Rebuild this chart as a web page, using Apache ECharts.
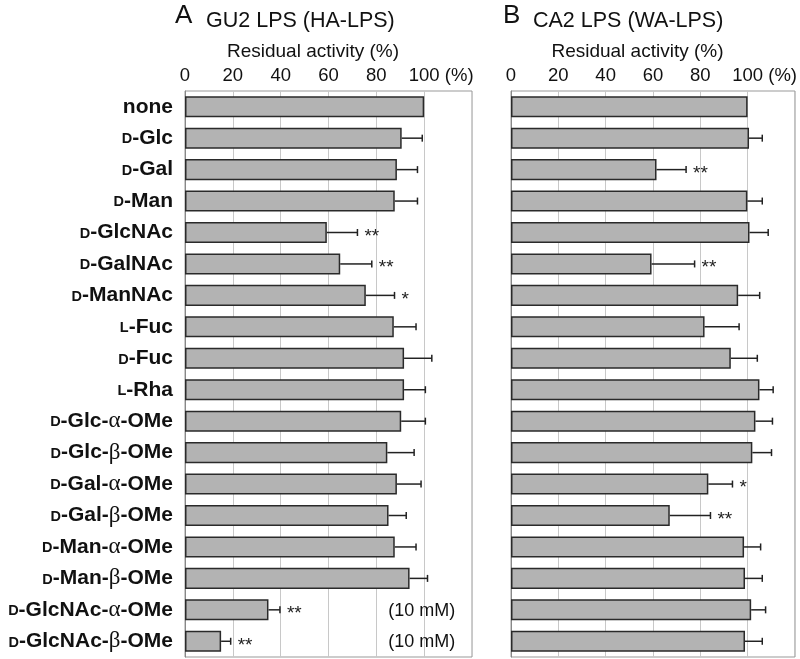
<!DOCTYPE html>
<html>
<head>
<meta charset="utf-8">
<script src="https://cdn.jsdelivr.net/npm/echarts@6/dist/echarts.min.js"></script>
<style>
html,body{margin:0;padding:0;background:#fff;}
#c{width:800px;height:659px;}
</style>
</head>
<body>
<div id="c"></div>
<script>
// ---- data ----
var categories = ['none','D-Glc','D-Gal','D-Man','D-GlcNAc','D-GalNAc','D-ManNAc','L-Fuc','D-Fuc','L-Rha',
  'D-Glc-α-OMe','D-Glc-β-OMe','D-Gal-α-OMe','D-Gal-β-OMe','D-Man-α-OMe','D-Man-β-OMe','D-GlcNAc-α-OMe','D-GlcNAc-β-OMe'];
var gu2Mean = [100, 90.6, 88.6, 87.7, 59.3, 64.9, 75.6, 87.3, 91.6, 91.6, 90.4, 84.6, 88.6, 85.1, 87.7, 93.9, 34.9, 15.1];
var gu2Err  = [0, 8.6, 8.6, 9.5, 12.8, 13.2, 12.0, 9.3, 11.6, 8.9, 10.1, 11.2, 10.1, 7.4, 8.9, 7.5, 4.8, 4.0];
var gu2Sig  = ['','','','','**','**','*','','','','','','','','','','**','**'];
var gu2Note = ['','','','','','','','','','','','','','','','','(10 mM)','(10 mM)'];
var ca2Mean = [100, 100.6, 61.5, 99.9, 100.8, 59.4, 96.0, 81.8, 92.9, 105.0, 103.3, 102.0, 83.4, 67.1, 98.5, 98.9, 101.5, 98.9];
var ca2Err  = [0, 5.6, 12.5, 6.3, 7.9, 18.2, 9.1, 14.6, 11.2, 5.8, 7.2, 8.1, 10.2, 17.2, 7.0, 7.3, 6.1, 7.3];
var ca2Sig  = ['','','**','','','**','','','','','','','*','**','','','',''];
var ca2Note = ['','','','','','','','','','','','','','','','','',''];
var xTicks = [0, 20, 40, 60, 80, 100];
var panelLetters = ['A', 'B'];
var panelTitles = ['GU2 LPS (HA-LPS)', 'CA2 LPS (WA-LPS)'];
var axisTitle = 'Residual activity (%)';

// ---- chart ----
var FONT = "'Liberation Sans', Arial, sans-serif";
var chart = echarts.init(document.getElementById('c'));

function catFormatter(v) {
  var s = '';
  for (var k = 0; k < v.length; k++) {
    var ch = v[k];
    if (k === 0 && (ch === 'D' || ch === 'L') && v[1] === '-') s += '{sc|' + ch + '}';
    else if (ch === 'α' || ch === 'β') s += '{g|' + ch + '}';
    else s += '{b|' + ch + '}';
  }
  return s;
}

function xAxisCfg(gi) {
  return {
    type: 'value', gridIndex: gi, position: 'top', min: 0, max: 120, interval: 20,
    axisLine: {show: false}, axisTick: {show: false},
    splitLine: {show: true, lineStyle: {color: '#c8c8c8', width: 1}},
    axisLabel: {
      margin: 6, color: '#111', fontFamily: FONT, fontSize: 18.5,
      formatter: function (v) {
        if (xTicks.indexOf(v) < 0) return '';
        if (v === 100) return '{p|100 (%)}';
        return String(v);
      },
      rich: {p: {fontFamily: FONT, fontSize: 18.5, color: '#111', padding: [0, 0, 0, 34]}}
    },
    name: axisTitle, nameLocation: 'middle', nameGap: 27,
    nameTextStyle: {fontFamily: FONT, fontSize: 19, color: '#111', padding: [0, 31, 0, 0]}
  };
}
function yAxisCfg(gi, showLabels) {
  return {
    type: 'category', gridIndex: gi, data: categories, inverse: true,
    axisLine: {show: true, lineStyle: {color: '#888', width: 1}},
    axisTick: {show: false},
    axisLabel: {
      show: showLabels, margin: 12, formatter: catFormatter,
      rich: {
        b: {fontFamily: FONT, fontWeight: 'bold', fontSize: 21, color: '#111', lineHeight: 24},
        sc: {fontFamily: FONT, fontWeight: 'bold', fontSize: 14.5, color: '#111', lineHeight: 24, padding: [2.5, 0, 0, 0]},
        g: {fontFamily: "'Liberation Serif', 'DejaVu Serif', serif", fontSize: 23, color: '#111', lineHeight: 24}
      }
    }
  };
}

function barSeries(gi, vals) {
  return {
    type: 'bar', xAxisIndex: gi, yAxisIndex: gi, data: vals, barCategoryGap: '33%',
    itemStyle: {color: '#b3b3b3', borderColor: '#2a2a2a', borderWidth: 1.5},
    silent: true, z: 2
  };
}
function errSeries(gi, means, errs, sigs, notes) {
  var data = means.map(function (m, i) { return [i, m, errs[i]]; });
  return {
    type: 'custom', xAxisIndex: gi, yAxisIndex: gi, data: data, z: 5, silent: true,
    encode: {x: 1, y: 0},
    renderItem: function (params, api) {
      var i = api.value(0), m = api.value(1), e = api.value(2);
      var children = [];
      var p0 = api.coord([m, i]);
      var p1 = api.coord([m + e, i]);
      var y = p0[1];
      if (e > 0) {
        children.push({type: 'line', shape: {x1: p0[0], y1: y, x2: p1[0], y2: y}, style: {stroke: '#222', lineWidth: 1.5}});
        children.push({type: 'line', shape: {x1: p1[0], y1: y - 3.5, x2: p1[0], y2: y + 3.5}, style: {stroke: '#222', lineWidth: 1.5}});
      }
      var sig = sigs[params.dataIndex];
      if (sig) {
        children.push({type: 'text', style: {x: p1[0] + 7, y: y + 4, text: sig, fill: '#222',
          font: '19px ' + FONT, textAlign: 'left', textVerticalAlign: 'middle'}});
      }
      var note = notes[params.dataIndex];
      if (note) {
        var pn = api.coord([85, i]);
        children.push({type: 'text', style: {x: pn[0], y: y + 1, text: note, fill: '#111',
          font: '18px ' + FONT, textAlign: 'left', textVerticalAlign: 'middle'}});
      }
      return {type: 'group', children: children};
    }
  };
}

var option = {
  animation: false,
  backgroundColor: '#fff',
  grid: [
    {left: 185, top: 91, width: 287, height: 566, show: true, borderColor: '#999', borderWidth: 1, backgroundColor: 'transparent'},
    {left: 511, top: 91, width: 287, height: 566, show: true, borderColor: '#999', borderWidth: 1, backgroundColor: 'transparent'}
  ],
  xAxis: [xAxisCfg(0), xAxisCfg(1)],
  yAxis: [yAxisCfg(0, true), yAxisCfg(1, false)],
  graphic: [
    {type: 'text', left: 175, top: 3, style: {text: panelLetters[0], font: '26px ' + FONT, fill: '#111'}},
    {type: 'text', left: 206, top: 10, style: {text: panelTitles[0], font: '21.5px ' + FONT, fill: '#111'}},
    {type: 'text', left: 503, top: 3, style: {text: panelLetters[1], font: '26px ' + FONT, fill: '#111'}},
    {type: 'text', left: 533, top: 10, style: {text: panelTitles[1], font: '21.5px ' + FONT, fill: '#111'}}
  ],
  series: [
    barSeries(0, gu2Mean), errSeries(0, gu2Mean, gu2Err, gu2Sig, gu2Note),
    barSeries(1, ca2Mean), errSeries(1, ca2Mean, ca2Err, ca2Sig, ca2Note)
  ]
};
chart.setOption(option);
</script>
</body>
</html>
